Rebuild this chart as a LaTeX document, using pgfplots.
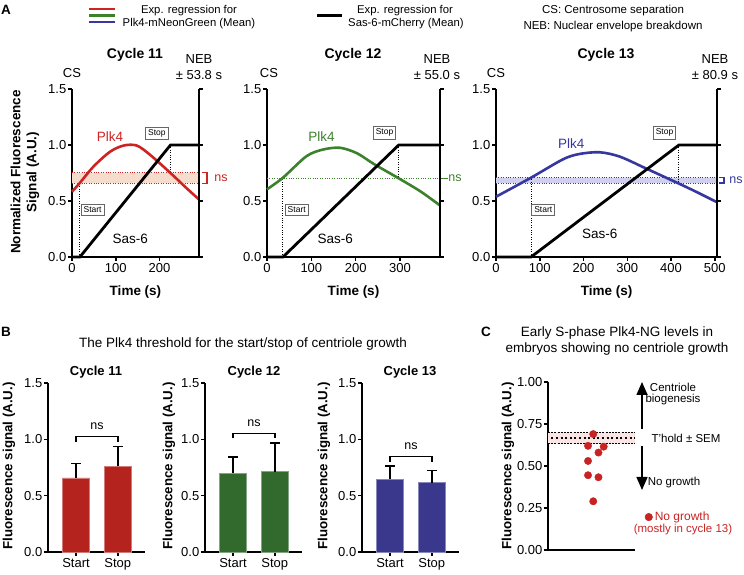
\documentclass[border=0pt]{standalone}
\usepackage{fontspec}
\setmainfont{Liberation Sans}
\usepackage{pgfplots}
\pgfplotsset{compat=1.18}
\usetikzlibrary{arrows.meta}

\definecolor{cred}{RGB}{205,35,35}
\definecolor{cgreen}{RGB}{60,130,45}
\definecolor{cblue}{RGB}{55,55,160}
\definecolor{bred}{RGB}{180,35,30}
\definecolor{bgreen}{RGB}{50,105,45}
\definecolor{bblue}{RGB}{58,56,140}
\definecolor{cpeach}{RGB}{245,220,205}
\definecolor{clav}{RGB}{208,208,238}
\definecolor{cpink}{RGB}{250,228,228}
\definecolor{cdot}{RGB}{200,35,35}

\newcommand{\fs}[1]{\fontsize{#1}{#1}\selectfont}

\tikzset{boxlab/.style={draw=gray!80!black, fill=white, line width=0.7pt, font=\fs{8.5}, inner sep=2.5pt}}

\pgfplotsset{
  base/.style={
    scale only axis, anchor=south west, clip=false,
    axis x line*=bottom, axis y line*=left,
    tick align=outside, major tick length=4pt,
    axis line style={line width=1.5pt},
    every tick/.style={line width=1.5pt, black},
    tick label style={font=\fs{13}},
    yticklabel style={inner sep=1.5pt},
    xticklabel style={inner sep=2pt},
    /pgf/number format/assume math mode=true,
  },
  panelA/.style={
    base, height=168pt,
    ymin=0, ymax=1.5, ytick={0,0.5,1,1.5},
    yticklabel style={/pgf/number format/.cd, fixed, fixed zerofill, precision=1},
    xlabel={Time (s)},
    xlabel style={font=\fs{13.5}\bfseries, at={(axis description cs:0.5,0)}, anchor=center, yshift=-35pt},
  },
  panelB/.style={
    base, height=169pt, width=97pt,
    ymin=0, ymax=1.5, ytick={0,0.5,1,1.5},
    yticklabel style={/pgf/number format/.cd, fixed, fixed zerofill, precision=1},
    xmin=0.33, xmax=2.65, xtick={1,2}, xticklabels={Start,Stop},
    xticklabel style={font=\fs{13}},
  },
  curve/.style={line width=2.6pt, smooth, tension=0.5},
  sas/.style={black, line width=2.8pt},
  vdot/.style={black, line width=1pt, dash pattern=on 1pt off 1.4pt},
  bars/.style={ybar, bar width=27pt, line width=0.8pt,
    error bars/y dir=plus, error bars/y explicit,
    error bars/error bar style={line width=1.5pt, black},
    error bars/error mark options={rotate=90, mark size=5pt, line width=1.5pt, black}},
}

\begin{document}
\begin{tikzpicture}
\useasboundingbox (0,0) rectangle (744pt,575pt);

% ================= Panel A, cycle 11
\begin{axis}[panelA, at={(72pt,318pt)}, width=127pt, xmin=0, xmax=290, xtick={0,100,200}]
  \addplot[fill=cpeach, draw=none] coordinates {(0,0.657) (290,0.657) (290,0.753) (0,0.753) (0,0.657)};
  \addplot[cred, line width=1pt, dash pattern=on 1pt off 1.4pt] coordinates {(0,0.657) (290,0.657)};
  \addplot[cred, line width=1pt, dash pattern=on 1pt off 1.4pt] coordinates {(0,0.753) (290,0.753)};
  \addplot[vdot] coordinates {(17,0) (17,0.657)};
  \addplot[vdot] coordinates {(225,1) (225,0.753)};
  \addplot[cred, curve] coordinates {(0,0.583) (17,0.657) (49,0.807) (87,0.94) (118,0.995) (148,0.995) (179,0.91) (224,0.753) (262,0.613) (290,0.514)};
  \addplot[sas] coordinates {(0,0) (18,0) (225,1) (290,1)};
  \draw[line width=1.5pt] (rel axis cs:1,0) -- (rel axis cs:1,1);
  \draw[line width=1.5pt] (axis cs:290,0) -- ++(4pt,0);
  \draw[line width=1.5pt] (axis cs:290,0.5) -- ++(4pt,0);
  \draw[line width=1.5pt] (axis cs:290,1) -- ++(4pt,0);
  \draw[line width=1.5pt] (axis cs:290,1.5) -- ++(4pt,0);
  \draw[cred, line width=1.2pt] ([xshift=3pt]axis cs:290,0.753) -- ([xshift=8pt]axis cs:290,0.753) -- ([xshift=8pt]axis cs:290,0.657) -- ([xshift=3pt]axis cs:290,0.657);
  \node[cred, font=\fs{12.5}] at ([xshift=22pt]axis cs:290,0.705) {ns};
  \node[boxlab] at (axis cs:47,0.42) {Start};
  \node[boxlab] at (axis cs:194,1.105) {Stop};
  \node[cred, font=\fs{13.5}] at (axis cs:87,1.075) {Plk4};
  \node[font=\fs{13.5}] at (axis cs:133,0.164) {Sas-6};
\end{axis}

% ================= Panel A, cycle 12
\begin{axis}[panelA, at={(267pt,318pt)}, width=173pt, xmin=0, xmax=390, xtick={0,100,200,300}]
  \addplot[cgreen, line width=1.5pt, dash pattern=on 1pt off 1.4pt] coordinates {(0,0.70) (390,0.70)};
  \addplot[vdot] coordinates {(35,0) (35,0.70)};
  \addplot[vdot] coordinates {(297,1) (297,0.70)};
  \addplot[cgreen, curve] coordinates {(0,0.604) (36,0.708) (89,0.90) (127,0.96) (165,0.975) (203,0.926) (241,0.83) (298,0.70) (347,0.583) (389,0.463)};
  \addplot[sas] coordinates {(0,0) (36,0) (297,1) (390,1)};
  \draw[line width=1.5pt] (rel axis cs:1,0) -- (rel axis cs:1,1);
  \draw[line width=1.5pt] (axis cs:390,0) -- ++(4pt,0);
  \draw[line width=1.5pt] (axis cs:390,0.5) -- ++(4pt,0);
  \draw[line width=1.5pt] (axis cs:390,1) -- ++(4pt,0);
  \draw[line width=1.5pt] (axis cs:390,1.5) -- ++(4pt,0);
  \draw[cgreen, line width=1.5pt] ([xshift=1pt]axis cs:390,0.70) -- ([xshift=8pt]axis cs:390,0.70);
  \node[cgreen, font=\fs{12.5}] at ([xshift=15pt]axis cs:390,0.70) {ns};
  \node[boxlab] at (axis cs:67,0.424) {Start};
  \node[boxlab] at (axis cs:265,1.11) {Stop};
  \node[cgreen, font=\fs{13.5}] at (axis cs:123,1.075) {Plk4};
  \node[font=\fs{13.5}] at (axis cs:154,0.164) {Sas-6};
\end{axis}

% ================= Panel A, cycle 13
\begin{axis}[panelA, at={(496pt,318pt)}, width=221pt, xmin=0, xmax=505, xtick={0,100,200,300,400,500}]
  \addplot[fill=clav, draw=none] coordinates {(0,0.66) (505,0.66) (505,0.708) (0,0.708) (0,0.66)};
  \addplot[cblue, line width=1pt, dash pattern=on 1pt off 1.4pt] coordinates {(0,0.66) (505,0.66)};
  \addplot[cblue, line width=1pt, dash pattern=on 1pt off 1.4pt] coordinates {(0,0.708) (505,0.708)};
  \addplot[vdot] coordinates {(80,0) (80,0.708)};
  \addplot[vdot] coordinates {(418,1) (418,0.66)};
  \addplot[cblue, curve] coordinates {(0,0.538) (80,0.708) (153,0.872) (191,0.92) (237,0.935) (283,0.896) (343,0.79) (417,0.657) (457,0.583) (503,0.493)};
  \addplot[sas] coordinates {(0,0) (80,0) (418,1) (505,1)};
  \draw[line width=1.5pt] (rel axis cs:1,0) -- (rel axis cs:1,1);
  \draw[line width=1.5pt] (axis cs:505,0) -- ++(4pt,0);
  \draw[line width=1.5pt] (axis cs:505,0.5) -- ++(4pt,0);
  \draw[line width=1.5pt] (axis cs:505,1) -- ++(4pt,0);
  \draw[line width=1.5pt] (axis cs:505,1.5) -- ++(4pt,0);
  \draw[cblue, line width=1.2pt] ([xshift=2pt]axis cs:505,0.708) -- ([xshift=7pt]axis cs:505,0.708) -- ([xshift=7pt]axis cs:505,0.66) -- ([xshift=2pt]axis cs:505,0.66);
  \node[cblue, font=\fs{12.5}] at ([xshift=19pt]axis cs:505,0.684) {ns};
  \node[boxlab] at (axis cs:108,0.424) {Start};
  \node[boxlab] at (axis cs:385,1.11) {Stop};
  \node[cblue, font=\fs{13.5}] at (axis cs:172,1.01) {Plk4};
  \node[font=\fs{13.5}] at (axis cs:237,0.209) {Sas-6};
\end{axis}

% ================= Panel B bars
\begin{axis}[panelB, at={(48pt,23pt)}]
  \addplot[bars, fill=bred, draw=bred!60!white] coordinates {(1,0.657) +- (0,0.127) (2,0.76) +- (0,0.177)};
  \draw[line width=1.5pt] (axis cs:1,0.98) -- (axis cs:1,1.027) -- (axis cs:2,1.027) -- (axis cs:2,0.98);
  \node[font=\fs{12.5}] at (axis cs:1.5,1.12) {ns};
\end{axis}
\begin{axis}[panelB, at={(205pt,23pt)}]
  \addplot[bars, fill=bgreen, draw=bgreen!60!white] coordinates {(1,0.70) +- (0,0.143) (2,0.712) +- (0,0.257)};
  \draw[line width=1.5pt] (axis cs:1,1.008) -- (axis cs:1,1.052) -- (axis cs:2,1.052) -- (axis cs:2,1.008);
  \node[font=\fs{12.5}] at (axis cs:1.5,1.145) {ns};
\end{axis}
\begin{axis}[panelB, at={(362pt,23pt)}]
  \addplot[bars, fill=bblue, draw=bblue!60!white] coordinates {(1,0.645) +- (0,0.118) (2,0.615) +- (0,0.11)};
  \draw[line width=1.5pt] (axis cs:1,0.80) -- (axis cs:1,0.849) -- (axis cs:2,0.849) -- (axis cs:2,0.80);
  \node[font=\fs{12.5}] at (axis cs:1.5,0.935) {ns};
\end{axis}

% ================= Panel C
\begin{axis}[base, at={(548pt,25pt)}, width=87pt, height=168pt,
  xmin=0, xmax=1, ymin=0, ymax=1, xtick=\empty,
  ytick={0,0.25,0.5,0.75,1},
  yticklabel style={/pgf/number format/.cd, fixed, fixed zerofill, precision=2},
  legend style={at={(axis description cs:1.11,0.196)}, anchor=west, draw=none, fill=none,
    inner sep=0pt, font=\fs{12}, text=cdot, legend cell align=left},
  legend image code/.code={\fill[cdot] (4pt,0pt) circle (3.8pt);},
  ]
  \addplot[fill=cpink, draw=none, forget plot] coordinates {(0,0.632) (1,0.632) (1,0.70) (0,0.70) (0,0.632)};
  \addplot[black, line width=0.7pt, dash pattern=on 2pt off 1.2pt, forget plot] coordinates {(0,0.632) (1,0.632)};
  \addplot[black, line width=0.7pt, dash pattern=on 2pt off 1.2pt, forget plot] coordinates {(0,0.70) (1,0.70)};
  \addplot[black, line width=2pt, dash pattern=on 2pt off 2.6pt, forget plot] coordinates {(0.04,0.667) (1,0.667)};
  \addplot[only marks, mark=*, mark size=3.7pt, color=cdot] coordinates {
    (0.52,0.69) (0.46,0.62) (0.64,0.615) (0.58,0.58) (0.46,0.53) (0.46,0.445) (0.58,0.433) (0.52,0.29)};
  \addlegendentry{No growth}
\end{axis}

% ================= Free text
\begin{scope}[x=1pt,y=1pt]
  % legend top
  \draw[cred, line width=2.6pt] (89,566) -- (115,566);
  \draw[cgreen, line width=2.6pt] (89,559.5) -- (115,559.5);
  \draw[cblue, line width=2.6pt] (89,553) -- (115,553);
  \node[font=\fs{11.3}] at (189,564) {Exp. regression for};
  \node[font=\fs{11.3}] at (189,551) {Plk4-mNeonGreen (Mean)};
  \draw[black, line width=3pt] (317,559) -- (342,559);
  \node[font=\fs{11.3}] at (405,564) {Exp. regression for};
  \node[font=\fs{11.3}] at (406,551) {Sas-6-mCherry (Mean)};
  \node[font=\fs{11.5}] at (613,564) {CS: Centrosome separation};
  \node[font=\fs{11.5}] at (613,548) {NEB: Nuclear envelope breakdown};
  % panel letters
  \node[font=\fs{13.5}\bfseries] at (6,565) {A};
  \node[font=\fs{13.5}\bfseries] at (6,243) {B};
  \node[font=\fs{13.5}\bfseries] at (486,243) {C};
  % panel A titles
  \node[font=\fs{14}\bfseries] at (135,520) {Cycle 11};
  \node[font=\fs{14}\bfseries] at (353,520) {Cycle 12};
  \node[font=\fs{14}\bfseries] at (606,520) {Cycle 13};
  \node[font=\fs{13}] at (72,502) {CS};
  \node[font=\fs{13}] at (269,502) {CS};
  \node[font=\fs{13}] at (496,502) {CS};
  \node[font=\fontsize{13}{16}\selectfont, align=center] at (199,508) {NEB\\± 53.8 s};
  \node[font=\fontsize{13}{16}\selectfont, align=center] at (437,508) {NEB\\± 55.0 s};
  \node[font=\fontsize{13}{16}\selectfont, align=center] at (715,508) {NEB\\± 80.9 s};
  \node[rotate=90, align=center, font=\fontsize{13.5}{16}\selectfont\bfseries] at (25,403) {Normalized Fluorescence\\Signal (A.U.)};
  % panel B
  \node[font=\fs{13.5}] at (243,231) {The Plk4 threshold for the start/stop of centriole growth};
  \node[font=\fs{13}\bfseries] at (96,203) {Cycle 11};
  \node[font=\fs{13}\bfseries] at (254,203) {Cycle 12};
  \node[font=\fs{13}\bfseries] at (410,203) {Cycle 13};
  \node[rotate=90, font=\fs{13.3}\bfseries] at (9,109) {Fluorescence signal (A.U.)};
  \node[rotate=90, font=\fs{13.3}\bfseries] at (169,109) {Fluorescence signal (A.U.)};
  \node[rotate=90, font=\fs{13.3}\bfseries] at (324,109) {Fluorescence signal (A.U.)};
  % panel C
  \node[font=\fs{13.5}] at (617,242) {Early S-phase Plk4-NG levels in};
  \node[font=\fs{13.5}] at (617,226) {embryos showing no centriole growth};
  \node[rotate=90, font=\fs{13.3}\bfseries] at (508,109) {Fluorescence signal (A.U.)};
  \draw[line width=1.5pt, -{Triangle[width=11pt,length=13pt]}] (642,146) -- (642,193);
  \draw[line width=1.5pt, -{Triangle[width=11pt,length=13pt]}] (642,129) -- (642,85);
  \node[font=\fs{11.5}] at (673,188) {Centriole};
  \node[font=\fs{11.5}] at (673,175) {biogenesis};
  \node[font=\fs{11.5}] at (686,137) {T'hold ± SEM};
  \node[font=\fs{11.5}] at (674,92) {No growth};
  \node[font=\fs{11.5}, text=cdot] at (683,45) {(mostly in cycle 13)};
\end{scope}
\end{tikzpicture}
\end{document}
